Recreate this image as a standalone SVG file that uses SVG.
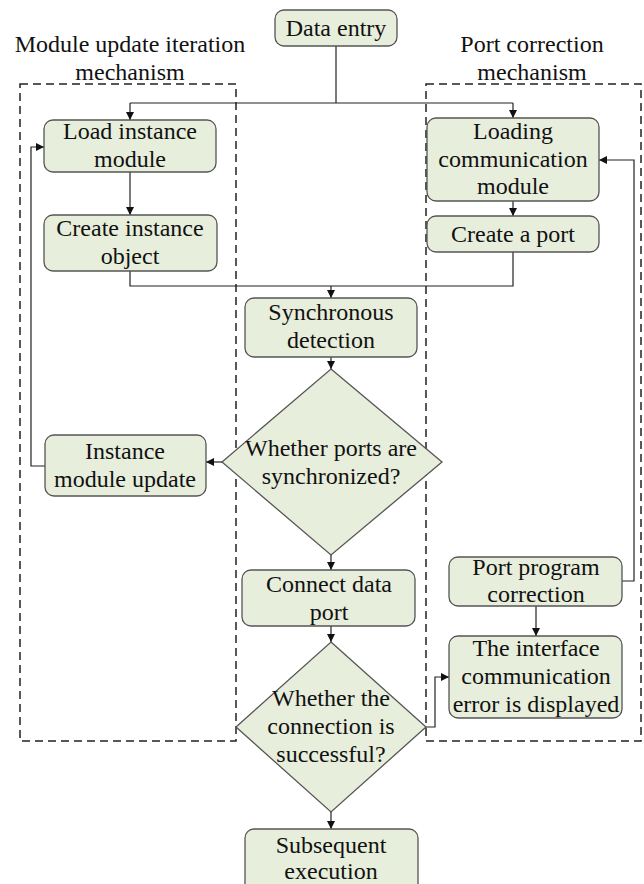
<svg xmlns="http://www.w3.org/2000/svg" width="644" height="884" viewBox="0 0 644 884">
  <style>
    .box { fill: #e8eedc; stroke: #555; stroke-width: 1.3; }
    .frame { fill: none; stroke: #222; stroke-width: 1.5; stroke-dasharray: 8 5; }
    .wire { fill: none; stroke: #222; stroke-width: 1.2; }
    text { font-family: 'Liberation Serif', 'Times New Roman', serif; font-size: 24px; fill: #111; text-anchor: middle; }
  </style>
  <defs>
    <marker id="arr" viewBox="0 0 10 10" refX="10" refY="5" markerWidth="8" markerHeight="8" markerUnits="userSpaceOnUse" orient="auto">
      <path d="M0,0 L10,5 L0,10 Z" fill="#111"/>
    </marker>
  </defs>

  <rect width="644" height="884" fill="#fff"/>

  <!-- mechanism frames -->
  <g id="frames">
    <rect class="frame" x="20" y="84" width="216" height="657"/>
    <rect class="frame" x="426" y="84" width="215" height="657"/>
    <text x="130" y="52">Module update iteration</text>
    <text x="130" y="80">mechanism</text>
    <text x="532" y="52">Port correction</text>
    <text x="532" y="80">mechanism</text>
  </g>

  <!-- connectors -->
  <g id="connectors">
    <path class="wire" d="M336,46 V103"/>
    <path class="wire" d="M130,103 H513"/>
    <path class="wire" d="M130,103 V120" marker-end="url(#arr)"/>
    <path class="wire" d="M513,103 V118" marker-end="url(#arr)"/>
    <path class="wire" d="M130,172 V215" marker-end="url(#arr)"/>
    <path class="wire" d="M513,201 V216" marker-end="url(#arr)"/>
    <path class="wire" d="M130,271 V286 H513 V252"/>
    <path class="wire" d="M331,286 V298" marker-end="url(#arr)"/>
    <path class="wire" d="M331,357 V369" marker-end="url(#arr)"/>
    <path class="wire" d="M222,462 H206" marker-end="url(#arr)"/>
    <path class="wire" d="M45,466 H31 V147 H44" marker-end="url(#arr)"/>
    <path class="wire" d="M331,555 V570" marker-end="url(#arr)"/>
    <path class="wire" d="M331,626 V642" marker-end="url(#arr)"/>
    <path class="wire" d="M426,727 H435 V677 H449" marker-end="url(#arr)"/>
    <path class="wire" d="M536,606 V636" marker-end="url(#arr)"/>
    <path class="wire" d="M622,581 H634 V160 H599" marker-end="url(#arr)"/>
    <path class="wire" d="M331,812 V829" marker-end="url(#arr)"/>
  </g>

  <g id="data-entry">
    <rect class="box" x="275" y="10" width="122" height="36" rx="9"/>
    <text x="336" y="36">Data entry</text>
  </g>

  <g id="load-instance">
    <rect class="box" x="44" y="120" width="172" height="52" rx="9"/>
    <text x="130" y="139">Load instance</text>
    <text x="130" y="167">module</text>
  </g>

  <g id="create-instance">
    <rect class="box" x="44" y="215" width="173" height="56" rx="9"/>
    <text x="130" y="236">Create instance</text>
    <text x="130" y="264">object</text>
  </g>

  <g id="load-comm">
    <rect class="box" x="427" y="118" width="172" height="83" rx="9"/>
    <text x="513" y="139">Loading</text>
    <text x="513" y="167">communication</text>
    <text x="513" y="194">module</text>
  </g>

  <g id="create-port">
    <rect class="box" x="427" y="216" width="172" height="36" rx="9"/>
    <text x="513" y="242">Create a port</text>
  </g>

  <g id="sync-detect">
    <rect class="box" x="245" y="298" width="172" height="59" rx="9"/>
    <text x="331" y="320">Synchronous</text>
    <text x="331" y="348">detection</text>
  </g>

  <g id="ports-sync">
    <polygon class="box" points="331,369 442,462 331,555 222,462"/>
    <text x="331" y="456">Whether ports are</text>
    <text x="331" y="484">synchronized?</text>
  </g>

  <g id="module-update">
    <rect class="box" x="45" y="435" width="161" height="61" rx="9"/>
    <text x="125" y="459">Instance</text>
    <text x="125" y="487">module update</text>
  </g>

  <g id="connect-port">
    <rect class="box" x="242" y="570" width="173" height="56" rx="9"/>
    <text x="329" y="592">Connect data</text>
    <text x="329" y="620">port</text>
  </g>

  <g id="connection-ok">
    <polygon class="box" points="331,642 426,727 331,812 236,727"/>
    <text x="331" y="706">Whether the</text>
    <text x="331" y="734">connection is</text>
    <text x="331" y="762">successful?</text>
  </g>

  <g id="port-correction">
    <rect class="box" x="449" y="557" width="173" height="49" rx="9"/>
    <text x="536" y="575">Port program</text>
    <text x="536" y="602">correction</text>
  </g>

  <g id="comm-error">
    <rect class="box" x="449" y="636" width="173" height="82" rx="9"/>
    <text x="536" y="656">The interface</text>
    <text x="536" y="684">communication</text>
    <text x="536" y="712">error is displayed</text>
  </g>

  <g id="subsequent">
    <rect class="box" x="245" y="829" width="173" height="64" rx="9"/>
    <text x="331" y="853">Subsequent</text>
    <text x="331" y="879">execution</text>
  </g>
</svg>
